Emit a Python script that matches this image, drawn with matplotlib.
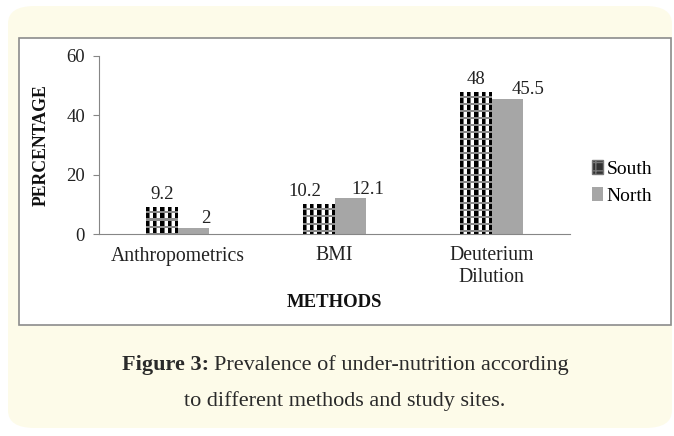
import numpy as np
import matplotlib
matplotlib.use("Agg")
import matplotlib.pyplot as plt
from matplotlib.patches import FancyBboxPatch, Rectangle, Patch

# data
methods = ["Anthropometrics", "BMI", "Deuterium\nDilution"]
south = [9.2, 10.2, 48]
north = [2, 12.1, 45.5]
south_labels = ["9.2", "10.2", "48"]
north_labels = ["2", "12.1", "45.5"]
# small horizontal nudges of the value labels (as in the original)
south_dx = [0.0, -0.09, 0.0]
north_dx = [0.08, 0.11, 0.13]

W, H = 674, 436
fig = plt.figure(figsize=(W / 100, H / 100), dpi=100)
fig.patch.set_facecolor('white')

# cream rounded panel
bg = FancyBboxPatch((8 / W, 8 / H), (W - 10) / W, (H - 14) / H,
                    boxstyle="round,pad=0,rounding_size=0.04",
                    transform=fig.transFigure, facecolor='#fdfbe9',
                    edgecolor='none', zorder=0)
fig.patches.append(bg)

# white chart frame
frame = Rectangle((19 / W, 1 - 325 / H), (671 - 19) / W, (325 - 38) / H,
                  transform=fig.transFigure, facecolor='white',
                  edgecolor='#8c8c8c', linewidth=1.2, zorder=1)
fig.patches.append(frame)

ax = fig.add_axes([99 / W, 1 - 234 / H, (570 - 99) / W, (234 - 56) / H])
ax.set_zorder(2)
ax.patch.set_alpha(0)

x = np.arange(len(methods))
w = 0.2
serif = 'Liberation Serif'
fs = 13.5

b1 = ax.bar(x - w / 2, south, w, facecolor='white', edgecolor='none',
            label='South')
b2 = ax.bar(x + w / 2, north, w, color='#a6a6a6', label='North')

ax.set_xlim(-0.5, 2.5)
ax.set_ylim(0, 60)

# checkered texture for the South bars
def texture(hp, wp):
    i, j = np.mgrid[0:hp, 0:wp]
    r, c = i % 7, j % 7
    img = np.ones((hp, wp, 3))
    img[(r == 5) | (r == 6)] = 0.55
    img[(c < 3) & (r < 5)] = 0.0
    img[(c == 3) & (r < 5)] = 0.45
    return img

fig.canvas.draw()
for rect in b1:
    bb = rect.get_window_extent()
    hp, wp = max(int(round(bb.height)), 1), max(int(round(bb.width)), 1)
    im = ax.imshow(texture(hp, wp), extent=(rect.get_x(), rect.get_x() + rect.get_width(),
                                            0, rect.get_height()),
                   aspect='auto', interpolation='nearest', zorder=2.5, origin='upper')
    im.set_clip_path(rect)
ax.set_xlim(-0.5, 2.5)
ax.set_ylim(0, 60)

for xi, v, s, dx in zip(x, south, south_labels, south_dx):
    ax.text(xi - w / 2 + dx, v + 1.2, s, ha='center', va='bottom',
            fontsize=fs, family=serif, color='#222222')
for xi, v, s, dx in zip(x, north, north_labels, north_dx):
    ax.text(xi + w / 2 + dx, v + 0.2, s, ha='center', va='bottom',
            fontsize=fs, family=serif, color='#222222')

ax.set_yticks([0, 20, 40, 60])
ax.set_xticks(x)
ax.set_xticklabels(methods, family=serif, fontsize=14.2, linespacing=1.15)
for lab in ax.get_yticklabels():
    lab.set_family(serif)
    lab.set_fontsize(fs)
ax.tick_params(axis='x', length=0, pad=9, colors='#222222')
ax.tick_params(axis='y', length=4, color='#868686', pad=6, labelcolor='#222222')

for side in ['top', 'right']:
    ax.spines[side].set_visible(False)
ax.spines['left'].set_color('#868686')
ax.spines['bottom'].set_color('#868686')

ax.set_ylabel('PERCENTAGE', family=serif, fontsize=12.8, fontweight='bold',
              labelpad=12, color='#111111')
ax.set_xlabel('METHODS', family=serif, fontsize=fs, fontweight='bold',
              labelpad=5, color='#111111')

handles = [Patch(facecolor='#333333', edgecolor='#777777', hatch='++'),
           Patch(facecolor='#a6a6a6')]
leg = ax.legend(handles, ['South', 'North'], loc='center left',
                bbox_to_anchor=(1.01, 0.29), frameon=False,
                prop={'family': serif, 'size': 14}, handlelength=0.55,
                handleheight=0.75, handletextpad=0.2, labelspacing=0.5)

# caption, first line centred as a whole
cfs = 16
cx = 345
t1 = fig.text(0, 1 - 365 / H, "Figure 3:", family=serif,
              fontweight='bold', fontsize=cfs, va='center', color='#2a2a2a')
t2 = fig.text(0, 1 - 365 / H, "Prevalence of under-nutrition according",
              family=serif, fontsize=cfs, va='center', color='#2a2a2a')
fig.canvas.draw()
w1 = t1.get_window_extent().width
w2 = t2.get_window_extent().width
gap = 5
x0 = cx - (w1 + gap + w2) / 2
t1.set_x(x0 / W)
t2.set_x((x0 + w1 + gap) / W)
fig.text(cx / W, 1 - 401 / H, "to different methods and study sites.",
         family=serif, fontsize=cfs, va='center', ha='center', color='#2a2a2a')

fig.savefig('out.png', dpi=100)
